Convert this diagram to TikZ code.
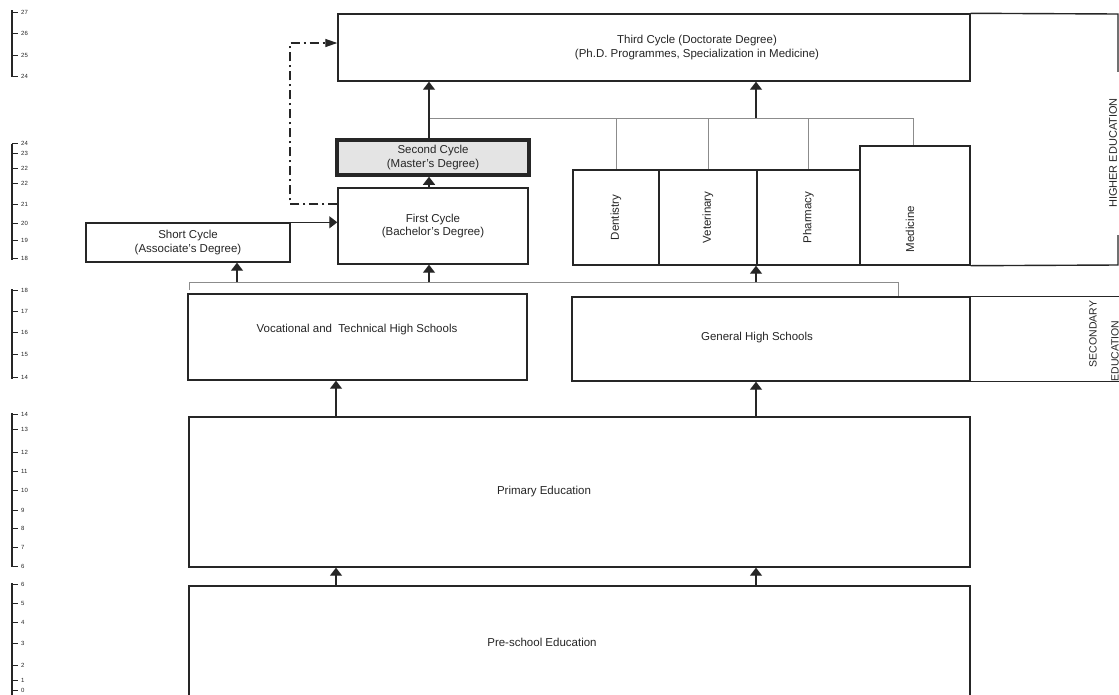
\documentclass[tikz,border=0pt]{standalone}
\usepackage{fontspec}
\setmainfont{Liberation Sans}
\usepackage{graphicx}
\usetikzlibrary{arrows.meta, calc}

\definecolor{ink}{HTML}{262626}
\definecolor{faint}{HTML}{8C8C8C}
\definecolor{shade}{HTML}{E4E4E4}

\tikzset{
  stage/.style={draw=ink, line width=1.4pt, inner sep=0pt, align=center,
    text=ink, font=\fontsize{11.5}{13.5}\selectfont},
  size/.style 2 args={minimum width=#1pt, minimum height=#2pt},
  caption/.style={text=ink, align=center, inner sep=1pt,
    font=\fontsize{11.5}{13.5}\selectfont},
  frame/.style={draw=ink, line width=1.4pt},
  up/.style={draw=ink, line width=1.3pt, -{Triangle[width=12pt,length=8pt]}},
  feed/.style={draw=faint, line width=0.8pt},
  bypass/.style={draw=ink, line width=1.3pt, dash pattern=on 9pt off 4pt on 2pt off 4pt},
  ruler/.style={draw=ink, line width=2.4pt},
  tick/.style={draw=ink, line width=0.9pt},
  agelabel/.style={anchor=west, inner sep=0pt, text=ink, font=\fontsize{6}{6}\selectfont}
}

\begin{document}
\begin{tikzpicture}[x=1pt, y=-1pt]
  \clip (0,0) rectangle (1119,694);
  \fill[white] (0,0) rectangle (1119,694);

  % age scale on the left
  \foreach \ytop/\ybot in {10/77, 144/260, 289/379, 413/567, 583/700}
    \draw[ruler] (12,\ytop) -- (12,\ybot);
  \foreach \yy/\age in {12/27, 33/26, 55/25, 76/24,
      143/24, 153/23, 168/22, 183/22, 204/21, 223/20, 240/19, 258/18,
      290/18, 311/17, 332/16, 354/15, 377/14,
      414/14, 429/13, 452/12, 471/11, 490/10, 510/9, 528/8, 547/7, 566/6,
      584/6, 603/5, 622/4, 643/3, 665/2, 680/1, 690/0}
  {
    \draw[tick] (12,\yy) -- (18,\yy);
    \node[agelabel] (age\yy) at (21,\yy) {\age};
  }

  % higher education
  \node[stage, size={632}{67}] (third) at (654,47.5) {};
  \node[caption] (thirdtxt) at (697,47.5) {Third Cycle (Doctorate Degree)\\(Ph.D. Programmes, Specialization in Medicine)};
  \node[stage, size={192}{35}, line width=3.5pt, fill=shade] (second) at (433,157.5) {Second Cycle\\(Master's Degree)};
  \node[stage, size={190}{76}] (first) at (433,226) {First Cycle\\(Bachelor's Degree)};
  \node[stage, size={204}{39}] (short) at (188,242.5) {Short Cycle\\(Associate's Degree)};

  \node[stage, size={86}{95}] (dent) at (616,217.5) {\rotatebox{90}{Dentistry}};
  \node[stage, size={98}{95}] (vet) at (708,217.5) {\rotatebox{90}{Veterinary}};
  \node[stage, size={103}{95}] (pharm) at (808.5,217.5) {\rotatebox{90}{Pharmacy}};
  \node[stage, size={110}{119}] (med) at (915,205.5) {};
  \node[caption, rotate=90] (medtxt) at (910,229) {Medicine};

  % secondary, primary, pre-school
  \node[stage, size={339}{86}] (voc) at (357.5,337) {};
  \node[caption] (voctxt) at (357,330) {Vocational and\ \ Technical High Schools};
  \node[stage, size={398}{84}] (general) at (771,339) {};
  \node[caption] (gentxt) at (757,338) {General High Schools};
  \node[stage, size={781}{150}] (prim) at (579.5,492) {};
  \node[caption] (primtxt) at (544,492) {Primary Education};
  \node[stage, size={781}{134}] (pre) at (579.5,653) {};
  \node[caption] (pretxt) at (542,642) {Pre-school Education};

  % side frames
  \coordinate (heT) at (1118,14);
  \coordinate (heB) at (1118,265);
  \draw[frame] (third.north east) -- (heT) -- (heB) -- (med.south east);
  \node[caption, rotate=90, fill=white, minimum width=163pt, inner ysep=4pt,
    font=\fontsize{11}{13}\selectfont] (hetxt) at (1113,153) {HIGHER EDUCATION};
  \draw[frame] (general.north east) -- ++(170,0);
  \draw[frame] (general.south east) -- ++(170,0);
  \node[caption, rotate=90, font=\fontsize{10.5}{12}\selectfont] (sectxt) at (1093,334) {SECONDARY};
  \node[caption, rotate=90, font=\fontsize{10.5}{12}\selectfont] (edutxt) at (1115,351) {EDUCATION};

  % columns of the arrows
  \coordinate (colS) at (237,0);
  \coordinate (colA) at (336,0);
  \coordinate (colC) at (429,0);
  \coordinate (colB) at (756,0);

  % feed line to the faculties
  \coordinate (fork1) at (429,118);
  \coordinate (fork1end) at (913,118);
  \draw[feed] (fork1) -- (fork1end) -- (med.north -| fork1end);
  \foreach \n in {dent, vet, pharm}
    \draw[feed] (\n.north |- fork1) -- (\n.north);
  \draw[up] (second.north -| colC) -- (third.south -| colC);
  \draw[up] (fork1 -| colB) -- (third.south -| colB);
  \draw[up] (first.north -| colC) -- (second.south -| colC);

  % feed line from the high schools
  \coordinate (fork2) at (189,282);
  \coordinate (fork2end) at (898,282);
  \draw[feed] ([yshift=-8pt]fork2) -- (fork2) -- (fork2end) -- (general.north -| fork2end);
  \draw[up] (fork2 -| colS) -- (short.south -| colS);
  \draw[up] (fork2 -| colC) -- (first.south -| colC);
  \draw[up] (fork2 -| colB) -- (dent.south -| colB);

  % short cycle and bypass to third cycle
  \draw[up] (short.north east) -- (first.west |- short.north east);
  \coordinate (loopB) at (290,204);
  \coordinate (loopT) at (290,43);
  \draw[bypass, -{Triangle[width=8pt,length=12pt]}] (first.west |- loopB) -- (loopB) -- (loopT) -- (third.west |- loopT);

  % school levels
  \draw[up] (prim.north -| colA) -- (voc.south -| colA);
  \draw[up] (prim.north -| colB) -- (general.south -| colB);
  \draw[up] (pre.north -| colA) -- (prim.south -| colA);
  \draw[up] (pre.north -| colB) -- (prim.south -| colB);
\end{tikzpicture}
\end{document}
